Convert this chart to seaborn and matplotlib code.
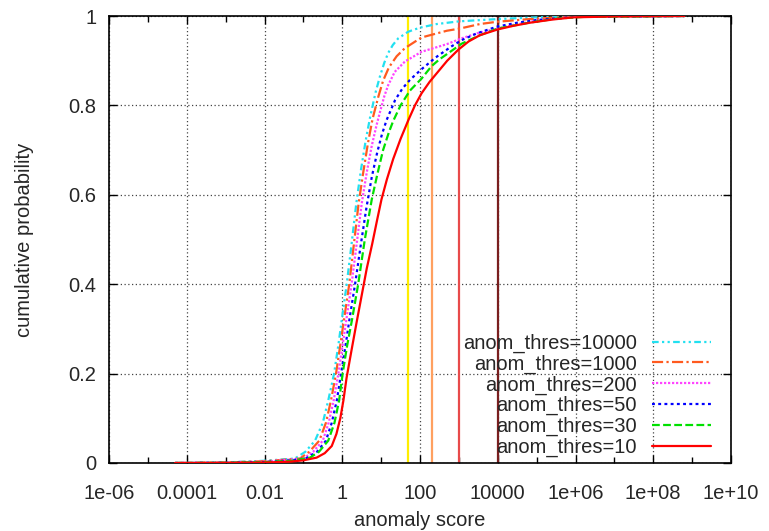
import numpy as np
import pandas as pd
import matplotlib
matplotlib.use("Agg")
import matplotlib.pyplot as plt
import matplotlib.ticker as mticker
import seaborn as sns

# ---- data (log10 of anomaly score, cumulative probability) ----
labels = ["anom_thres=10000", "anom_thres=1000", "anom_thres=200",
          "anom_thres=50", "anom_thres=30", "anom_thres=10"]

logx_10000 = [-4.3, -3, -2, -1.22, -0.95, -0.70, -0.50, -0.36, -0.21, -0.09, 0.01, 0.115,
              0.24, 0.36, 0.48, 0.6, 0.72, 0.86, 0.97, 1.08, 1.18, 1.3, 1.44, 1.7, 2.0,
              2.43, 3.0, 3.97, 5.0, 6.0, 8.8]
cdf_10000 = [0, 0.0012, 0.005, 0.01, 0.025, 0.05, 0.09, 0.14, 0.2, 0.27, 0.335, 0.4,
             0.49, 0.58, 0.655, 0.72, 0.775, 0.83, 0.865, 0.895, 0.917, 0.935, 0.95, 0.965, 0.974,
             0.982, 0.988, 0.993, 0.997, 0.999, 1.0]

logx_1000 = [-4.3, -3, -2, -1.09, -0.85, -0.59, -0.42, -0.29, -0.16, -0.04, 0.07, 0.18,
             0.30, 0.42, 0.54, 0.66, 0.78, 0.93, 1.05, 1.2, 1.4, 1.61, 2.04, 2.69,
             3.03, 3.54, 3.97, 4.8, 6.0, 8.8]
cdf_1000 = [0, 0.001, 0.004, 0.01, 0.025, 0.05, 0.09, 0.14, 0.2, 0.27, 0.335, 0.4,
            0.49, 0.58, 0.65, 0.715, 0.77, 0.82, 0.855, 0.885, 0.91, 0.928, 0.952, 0.967,
            0.972, 0.982, 0.987, 0.993, 0.999, 1.0]

logx_200 = [-4.3, -3, -2, -1.0, -0.75, -0.5, -0.35, -0.22, -0.10, 0.02, 0.13, 0.24,
            0.37, 0.50, 0.63, 0.76, 0.88, 0.97, 1.08, 1.18, 1.35, 1.61, 2.04, 2.69,
            3.07, 3.5, 3.8, 4.4, 5.0, 6.0, 8.8]
cdf_200 = [0, 0.0008, 0.003, 0.01, 0.025, 0.05, 0.09, 0.14, 0.2, 0.27, 0.335, 0.4,
           0.49, 0.58, 0.65, 0.71, 0.755, 0.785, 0.82, 0.845, 0.875, 0.898, 0.92, 0.937,
           0.95, 0.962, 0.968, 0.98, 0.99, 0.998, 1.0]

logx_50 = [-4.3, -3, -2, -1.3, -0.92, -0.65, -0.42, -0.27, -0.14, -0.03, 0.08, 0.2,
           0.33, 0.48, 0.62, 0.76, 0.9, 1.02, 1.14, 1.36, 1.55, 1.74, 2.04, 2.4,
           2.81, 3.07, 3.46, 3.97, 4.5, 5.0, 6.0, 8.8]
cdf_50 = [0, 0.0005, 0.002, 0.006, 0.011, 0.025, 0.05, 0.09, 0.14, 0.2, 0.26, 0.33,
          0.4, 0.49, 0.57, 0.64, 0.695, 0.735, 0.767, 0.812, 0.838, 0.857, 0.881, 0.907,
          0.932, 0.946, 0.961, 0.976, 0.985, 0.991, 0.998, 1.0]

logx_30 = [-4.3, -3, -2, -1.3, -0.83, -0.6, -0.36, -0.2, -0.08, 0.01, 0.12, 0.25,
           0.41, 0.58, 0.76, 0.9, 1.05, 1.2, 1.31, 1.5, 1.74, 2.04, 2.3, 2.5,
           2.73, 3.07, 3.54, 4.0, 4.8, 5.5, 6.2, 8.8]
cdf_30 = [0, 0.0005, 0.002, 0.005, 0.012, 0.025, 0.05, 0.09, 0.14, 0.2, 0.26, 0.32,
          0.4, 0.5, 0.59, 0.645, 0.70, 0.74, 0.765, 0.80, 0.833, 0.86, 0.888, 0.903,
          0.917, 0.938, 0.957, 0.972, 0.985, 0.994, 0.998, 1.0]

logx_10 = [-4.3, -3, -2, -1.34, -1.0, -0.66, -0.45, -0.27, -0.15, -0.05, 0.03, 0.11,
           0.24, 0.37, 0.50, 0.63, 0.77, 0.90, 1.01, 1.15, 1.31, 1.5, 1.70, 1.87,
           2.04, 2.25, 2.47, 2.7, 2.99, 3.25, 3.54, 4.0, 4.4, 4.83, 5.4, 5.94, 7.0, 8.8]
cdf_10 = [0, 0.0003, 0.001, 0.003, 0.006, 0.012, 0.022, 0.038, 0.065, 0.10, 0.14, 0.19,
          0.253, 0.315, 0.375, 0.435, 0.49, 0.545, 0.59, 0.635, 0.68, 0.725, 0.767, 0.80,
          0.827, 0.853, 0.876, 0.90, 0.925, 0.943, 0.957, 0.970, 0.978, 0.985, 0.992, 0.997, 0.999, 1.0]

threshold_scores = [50, 200, 1000, 10000]

x_ticks = [1e-6, 1e-4, 1e-2, 1, 1e2, 1e4, 1e6, 1e8, 1e10]
x_ticklabels = ["1e-06", "0.0001", "0.01", "1", "100", "10000", "1e+06", "1e+08", "1e+10"]
y_ticks = [0, 0.2, 0.4, 0.6, 0.8, 1]
y_ticklabels = ["0", "0.2", "0.4", "0.6", "0.8", "1"]

# ---- styles ----
palette = {labels[0]: "#22e0f0", labels[1]: "#ff5a1f", labels[2]: "#ff44ff",
           labels[3]: "#0000ff", labels[4]: "#00e000", labels[5]: "#ff0000"}
dashes = {labels[0]: (3, 1.5, 1, 1.5, 1, 1.5), labels[1]: (5, 1.5, 1, 1.5),
          labels[2]: (1, 0.8), labels[3]: (1.3, 1.5), labels[4]: (3.5, 1.5),
          labels[5]: ""}
thr_colors = ["#ffee00", "#ffa060", "#e84a4a", "#7a1f1f"]

series = [(labels[0], logx_10000, cdf_10000), (labels[1], logx_1000, cdf_1000),
          (labels[2], logx_200, cdf_200), (labels[3], logx_50, cdf_50),
          (labels[4], logx_30, cdf_30), (labels[5], logx_10, cdf_10)]
frames = []
for name, lx, cy in series:
    frames.append(pd.DataFrame({"score": np.power(10.0, lx), "cdf": cy, "series": name}))
df = pd.concat(frames, ignore_index=True)

FS = 14.5
sns.set_style("ticks")
plt.rcParams["font.family"] = ["Liberation Sans", "DejaVu Sans"]
plt.rcParams["font.size"] = FS

fig = plt.figure(figsize=(7.69, 5.31), dpi=100)
ax = fig.add_axes([109 / 769, 68 / 531, (731 - 109) / 769, (463 - 16) / 531])

for t, c in zip(threshold_scores, thr_colors):
    ax.axvline(t, color=c, lw=1.6, zorder=1.5)

sns.lineplot(data=df, x="score", y="cdf", hue="series", style="series",
             hue_order=labels, style_order=labels, palette=palette, dashes=dashes,
             estimator=None, sort=True, lw=1.6, ax=ax, zorder=3)

ax.set_xscale("log")
ax.set_xlim(1e-6, 1e10)
ax.set_ylim(0, 1)
ax.set_xticks(x_ticks)
ax.set_xticklabels(x_ticklabels)
ax.xaxis.set_minor_locator(mticker.LogLocator(base=10, subs=[1.0], numticks=40))
ax.xaxis.set_minor_formatter(mticker.NullFormatter())
ax.set_yticks(y_ticks)
ax.set_yticklabels(y_ticklabels)

ax.tick_params(axis="both", which="major", direction="in", length=6, width=1,
               top=True, right=True, labelsize=FS, color="black")
ax.tick_params(axis="x", which="major", pad=15)
ax.tick_params(axis="y", which="major", pad=9)
ax.tick_params(axis="both", which="minor", direction="in", length=4, width=1,
               top=True, right=True, color="black")
for s in ax.spines.values():
    s.set_color("black")
    s.set_linewidth(1.2)

ax.grid(True, which="major", color="#444444", linestyle=(0, (1, 2)), lw=0.9)
ax.grid(False, which="minor")
ax.set_axisbelow(True)

ax.set_xlabel("anomaly score", fontsize=FS, labelpad=6)
ax.set_ylabel("cumulative probability", fontsize=FS, labelpad=25)

old = ax.get_legend()
handles = old.legend_handles
leg_labels = [t.get_text() for t in old.get_texts()]
old.remove()
ax.legend(handles, leg_labels, loc="lower right", frameon=False, markerfirst=False,
          handlelength=2.9, handletextpad=0.75, labelspacing=0.08,
          fontsize=FS, borderaxespad=0.0, bbox_to_anchor=(0.98, -0.005))

fig.savefig("out.png", dpi=100)
